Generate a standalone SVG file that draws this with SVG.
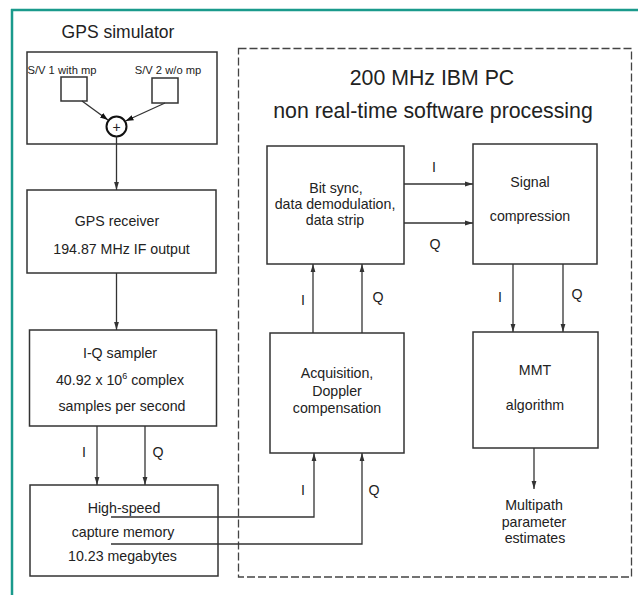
<svg xmlns="http://www.w3.org/2000/svg" width="638" height="595" viewBox="0 0 638 595">
<defs>
<marker id="ah" viewBox="0 0 10 10" refX="10" refY="5" markerWidth="8" markerHeight="8" markerUnits="userSpaceOnUse" orient="auto">
<path d="M0,2 L10,5 L0,8 Z" fill="#333"/>
</marker>
<marker id="ahs" viewBox="0 0 10 10" refX="10" refY="5" markerWidth="8" markerHeight="8" markerUnits="userSpaceOnUse" orient="auto">
<path d="M0,1.5 L10,5 L0,8.5 Z" fill="#111"/>
</marker>
</defs>
<style>
.box{fill:#fff;stroke:#333;stroke-width:1.5}
.t{font-family:"Liberation Sans",Arial,sans-serif;fill:#222;text-anchor:middle}
.s{font-size:11.2px}
.m{font-size:14.2px}
.l{font-size:17.5px}
.xl{font-size:21.3px}
.c{stroke:#333;stroke-width:1.3;fill:none}
</style>
<rect width="638" height="595" fill="#fff"/>
<g id="frame">
<line x1="11" y1="10" x2="638" y2="10" stroke="#1a9a8c" stroke-width="2.5"/>
<line x1="12" y1="9" x2="12" y2="595" stroke="#1a9a8c" stroke-width="2.5"/>
</g>
<g id="pc-area">
<rect x="238.5" y="48.5" width="393" height="528.5" fill="none" stroke="#444" stroke-width="1.3" stroke-dasharray="8,3"/>
<text class="t xl" x="432" y="85">200 MHz IBM PC</text>
<text class="t xl" x="433" y="118">non real-time software processing</text>
</g>
<g id="simulator">
<text class="t l" x="118" y="38">GPS simulator</text>
<rect class="box" x="27" y="52" width="190" height="92"/>
<text class="t s" x="62" y="74">S/V 1 with mp</text>
<text class="t s" x="168" y="74">S/V 2 w/o mp</text>
<rect class="box" x="61" y="77" width="26" height="24" stroke-width="1.2"/>
<rect class="box" x="152" y="78" width="26" height="25" stroke-width="1.2"/>
<circle cx="116.5" cy="126.5" r="10" fill="#fff" stroke="#111" stroke-width="2"/>
<text class="t" x="116.5" y="131.5" font-size="14">+</text>
</g>
<g id="receiver">
<rect class="box" x="27" y="190" width="189" height="83"/>
<text class="t m" x="117" y="226">GPS receiver</text>
<text class="t m" x="121.5" y="254">194.87 MHz IF output</text>
</g>
<g id="sampler">
<rect class="box" x="29.5" y="330" width="187" height="96"/>
<text class="t m" x="120" y="358">I-Q sampler</text>
<text class="t m" x="120" y="385">40.92 x 10<tspan font-size="9" dy="-6">6</tspan><tspan dy="6"> complex</tspan></text>
<text class="t m" x="122" y="411">samples per second</text>
</g>
<g id="memory">
<rect class="box" x="30" y="485" width="188" height="91"/>
<text class="t m" x="124" y="513">High-speed</text>
<text class="t m" x="123" y="537">capture memory</text>
<text class="t m" x="122.5" y="561">10.23 megabytes</text>
</g>
<g id="bitsync">
<rect class="box" x="267" y="146" width="137" height="118"/>
<text class="t m" x="336" y="193">Bit sync,</text>
<text class="t m" x="335" y="209">data demodulation,</text>
<text class="t m" x="335" y="225">data strip</text>
</g>
<g id="compression">
<rect class="box" x="473" y="144" width="124" height="120"/>
<text class="t m" x="530" y="187">Signal</text>
<text class="t m" x="530" y="221">compression</text>
</g>
<g id="acquisition">
<rect class="box" x="270" y="333" width="134" height="120"/>
<text class="t m" x="337" y="378">Acquisition,</text>
<text class="t m" x="337" y="396">Doppler</text>
<text class="t m" x="337" y="413">compensation</text>
</g>
<g id="mmt">
<rect class="box" x="473" y="332" width="125" height="116"/>
<text class="t m" x="535" y="375">MMT</text>
<text class="t m" x="535" y="410">algorithm</text>
</g>
<g id="estimates">
<text class="t m" x="534" y="510">Multipath</text>
<text class="t m" x="534" y="527">parameter</text>
<text class="t m" x="535" y="543">estimates</text>
</g>
<g id="connectors">
<line class="c" x1="82" y1="101" x2="108" y2="120" marker-end="url(#ahs)"/>
<line class="c" x1="165" y1="103" x2="125.5" y2="121" marker-end="url(#ahs)"/>
<line class="c" x1="116.5" y1="136.5" x2="116.5" y2="190" marker-end="url(#ah)"/>
<line class="c" x1="116.5" y1="273" x2="116.5" y2="330" marker-end="url(#ah)"/>
<line class="c" x1="97" y1="426" x2="97" y2="485" marker-end="url(#ah)"/>
<line class="c" x1="145" y1="426" x2="145" y2="485" marker-end="url(#ah)"/>
<text class="t m" x="84" y="457">I</text>
<text class="t m" x="158" y="457">Q</text>
<polyline class="c" points="111,517 314,517 314,453" marker-end="url(#ah)"/>
<polyline class="c" points="111,544 362,544 362,453" marker-end="url(#ah)"/>
<text class="t m" x="303" y="495">I</text>
<text class="t m" x="374" y="495">Q</text>
<line class="c" x1="313" y1="333" x2="313" y2="264" marker-end="url(#ah)"/>
<line class="c" x1="362" y1="333" x2="362" y2="264" marker-end="url(#ah)"/>
<text class="t m" x="303" y="305">I</text>
<text class="t m" x="378" y="302">Q</text>
<line class="c" x1="404" y1="184" x2="473" y2="184" marker-end="url(#ah)"/>
<line class="c" x1="404" y1="223" x2="473" y2="223" marker-end="url(#ah)"/>
<text class="t m" x="434" y="172">I</text>
<text class="t m" x="435" y="249">Q</text>
<line class="c" x1="513" y1="264" x2="513" y2="332" marker-end="url(#ah)"/>
<line class="c" x1="563" y1="264" x2="563" y2="332" marker-end="url(#ah)"/>
<text class="t m" x="500" y="302">I</text>
<text class="t m" x="577" y="299">Q</text>
<line class="c" x1="534" y1="448" x2="534" y2="489" marker-end="url(#ah)"/>
</g>
</svg>
